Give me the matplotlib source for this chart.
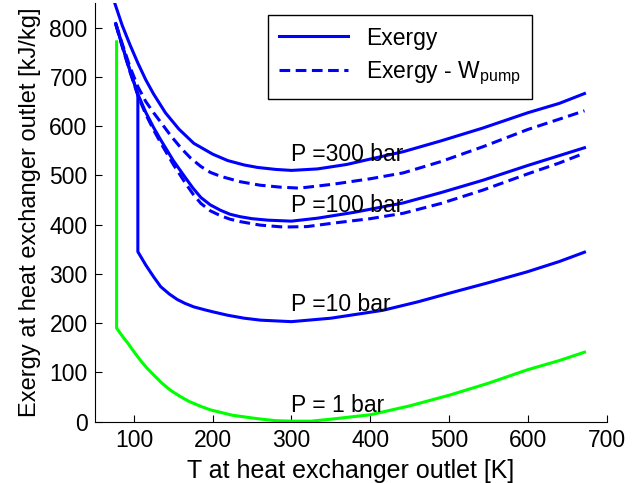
import matplotlib
matplotlib.use("Agg")
import matplotlib.pyplot as plt

plt.rcParams['font.family'] = ['Liberation Sans', 'DejaVu Sans']
plt.rcParams['mathtext.fontset'] = 'custom'
plt.rcParams['mathtext.rm'] = 'Liberation Sans'
plt.rcParams['mathtext.it'] = 'Liberation Sans'

# P = 300 bar
t300 = [76, 85, 95, 105, 115, 125, 140, 157, 176, 200, 219, 240, 257, 280, 300, 333, 370, 400, 442, 490, 543, 600, 640, 672]
ex300 = [848, 805, 765, 728, 694, 665, 627, 594, 565, 543, 530, 521, 516, 512, 510, 513, 522, 533, 548, 570, 596, 627, 646, 666]
t300p = [77, 85, 95, 105, 115, 125, 134, 147, 160, 172, 185, 197, 210, 235, 260, 286, 310, 353, 400, 442, 490, 543, 600, 640, 672]
ex300p = [808, 768, 720, 680, 650, 627, 608, 580, 555, 535, 518, 506, 498, 487, 480, 476, 474, 482, 493, 505, 528, 558, 593, 614, 631]

# P = 100 bar
t100 = [77, 85, 95, 105, 115, 125, 134, 150, 165, 175, 185, 197, 210, 222, 235, 250, 270, 300, 333, 380, 442, 490, 543, 600, 640, 672]
ex100 = [808, 765, 713, 665, 628, 597, 572, 530, 496, 474, 455, 440, 429, 421, 416, 412, 409, 407, 413, 425, 444, 465, 490, 520, 540, 556]
t100p = [77, 85, 95, 105, 115, 125, 134, 150, 165, 175, 185, 197, 210, 222, 235, 260, 290, 320, 353, 400, 442, 490, 543, 600, 640, 672]
ex100p = [806, 762, 710, 662, 624, 592, 566, 522, 485, 462, 443, 428, 418, 411, 406, 399, 395, 396, 403, 412, 423, 443, 470, 503, 525, 545]

# P = 10 bar
t10 = [77, 85, 95, 105, 105, 115, 125, 134, 145, 155, 165, 176, 190, 200, 219, 240, 261, 300, 350, 416, 460, 501, 550, 599, 640, 672]
ex10 = [807, 764, 712, 665, 345, 318, 294, 274, 259, 248, 240, 233, 227, 223, 216, 210, 206, 203, 210, 226, 243, 261, 282, 304, 325, 344]

# P = 1 bar
t1 = [78, 78, 82, 87, 92, 100, 109, 117, 125, 135, 147, 160, 170, 185, 197, 225, 257, 280, 300, 325, 350, 400, 450, 501, 550, 599, 640, 672]
ex1 = [771, 190, 181, 170, 160, 142, 123, 108, 95, 79, 63, 50, 41, 31, 24, 13, 6, 2, 1, 1, 5, 14, 32, 54, 78, 105, 124, 141]

labels = ['P =300 bar', 'P =100 bar', 'P =10 bar', 'P = 1 bar']
label_y = [543, 438, 237, 33]

fig = plt.figure(figsize=(6.4, 4.83), dpi=100)
ax = fig.add_axes([0.1477, 0.127, 0.80, 0.867])

blue = (0, 0, 1)
lw = 2.2
dash = (3.5, 1.8)
ax.plot(t1, ex1, color=(0, 1, 0), lw=lw)
ax.plot(t10, ex10, color=blue, lw=lw)
ax.plot(t100p, ex100p, color=blue, lw=lw, ls='--', dashes=dash)
ax.plot(t100, ex100, color=blue, lw=lw)
ax.plot(t300p, ex300p, color=blue, lw=lw, ls='--', dashes=dash, label='Exergy - W$_{\\rm pump}$')
ax.plot(t300, ex300, color=blue, lw=lw, label='Exergy')

for lab, yy in zip(labels, label_y):
    ax.text(300, yy, lab, fontsize=16.5, va='center', ha='left')

ax.set_xlim(50, 700)
ax.set_ylim(0, 850)
ax.set_xticks(range(100, 701, 100))
ax.set_yticks(range(0, 801, 100))
ax.tick_params(direction='in', length=5, width=0.8, labelsize=16.5, pad=5)
ax.spines['top'].set_visible(False)
ax.spines['right'].set_visible(False)
ax.set_xlabel('T at heat exchanger outlet [K]', fontsize=18, labelpad=5)
ax.set_ylabel('Exergy at heat exchanger outlet [kJ/kg]', fontsize=17, labelpad=6)

h, l = ax.get_legend_handles_labels()
leg = ax.legend(h[::-1], l[::-1], loc='upper left', bbox_to_anchor=(0.338, 0.971),
                borderaxespad=0, fontsize=16.5, fancybox=False, framealpha=1,
                edgecolor='black', handlelength=3.0, borderpad=0.5, labelspacing=0.45)
leg.get_frame().set_linewidth(1.0)

fig.savefig('out.png', dpi=100)
